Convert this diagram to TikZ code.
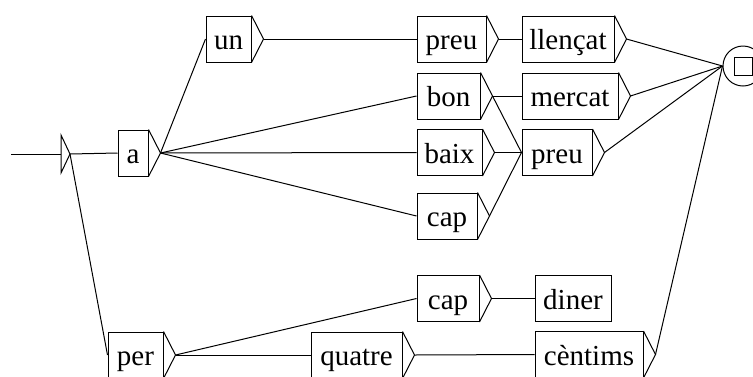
\documentclass[tikz,border=0pt]{standalone}
\usepackage{fontspec}
\setmainfont{Liberation Serif}
\begin{document}
\begin{tikzpicture}[x=1pt,y=-1pt,
  ubox/.style={draw, line width=1pt, minimum height=46pt, inner sep=0pt,
    text height=24pt, text depth=3pt, font=\fontsize{29}{31}\selectfont},
  edge/.style={line width=1pt},
  tri/.style={line width=1pt, line join=miter}]
\clip (0,0) rectangle (753,376);
\fill[white] (0,0) rectangle (753,376);
% boxes: center x, center y, width
\node[ubox, minimum width=30pt]  (a)       at (133,153)   {a};
\node[ubox, minimum width=45pt]  (un)      at (228.5,39)  {un};
\node[ubox, minimum width=69pt]  (preuA)   at (451.5,39)  {preu};
\node[ubox, minimum width=92pt]  (llencat) at (568,39)    {llençat};
\node[ubox, minimum width=63pt]  (bon)     at (448.5,96)  {bon};
\node[ubox, minimum width=96pt]  (mercat)  at (570,96)    {mercat};
\node[ubox, minimum width=65pt]  (baix)    at (449.5,152.5) {baix};
\node[ubox, minimum width=70pt]  (preuB)   at (557,152.5) {preu};
\node[ubox, minimum width=60pt]  (capA)    at (447,216)   {cap};
\node[ubox, minimum width=55pt]  (per)     at (135.5,355) {per};
\node[ubox, minimum width=91pt]  (quatre)  at (356.5,355) {quatre};
\node[ubox, minimum width=62pt]  (capB)    at (448,298.5) {cap};
\node[ubox, minimum width=76pt]  (diner)   at (573,298.5) {diner};
\node[ubox, minimum width=108pt] (centims) at (589,354.5) {cèntims};
% output triangles
\foreach \n in {a,un,preuA,llencat,bon,mercat,baix,preuB,capA,per,quatre,capB,centims}{
  \coordinate (\n-out) at ([xshift=12pt]\n.east);
  \draw[tri] (\n.north east) -- (\n-out) -- (\n.south east);
}
% initial state
\coordinate (start) at (11,154);
\coordinate (initL) at (61,154);
\coordinate (initT) at (61,135);
\coordinate (initB) at (61,173);
\coordinate (init) at (70,154);
\draw[edge] (start) -- (initL);
\draw[tri] (initT) -- (init) -- (initB) -- cycle;
% final state
\node[draw, circle, line width=1pt, minimum size=40pt, inner sep=0pt] (final) at (743,66) {};
\node[draw, line width=1pt, minimum size=18pt, inner sep=0pt] (finalsq) at (final.center) {};
% connectors
\draw[edge] (init) -- (a.west);
\draw[edge] (init) -- (per.west);
\draw[edge] (a-out) -- (un.west);
\draw[edge] (a-out) -- (bon.west);
\draw[edge] (a-out) -- (baix.west);
\draw[edge] (a-out) -- (capA.west);
\draw[edge] (un-out) -- (preuA.west);
\draw[edge] (preuA-out) -- (llencat.west);
\draw[edge] (bon-out) -- (mercat.west);
\draw[edge] (bon-out) -- (preuB.west);
\draw[edge] (baix-out) -- (preuB.west);
\draw[edge] (capA-out) -- (preuB.west);
\draw[edge] (llencat-out) -- (final.west);
\draw[edge] (mercat-out) -- (final.west);
\draw[edge] (preuB-out) -- (final.west);
\draw[edge] (centims-out) -- (final.west);
\draw[edge] (per-out) -- (capB.west);
\draw[edge] (per-out) -- (quatre.west);
\draw[edge] (quatre-out) -- (centims.west);
\draw[edge] (capB-out) -- (diner.west);
\end{tikzpicture}
\end{document}
